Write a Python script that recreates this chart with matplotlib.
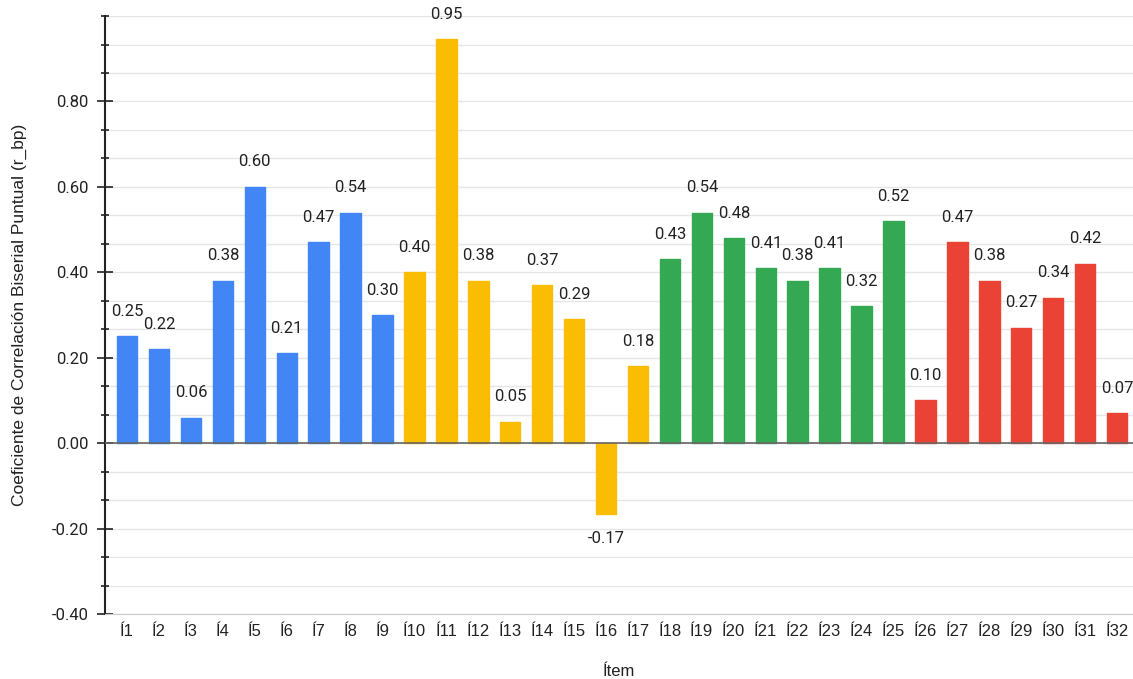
import matplotlib.pyplot as plt
from matplotlib.ticker import MultipleLocator
import numpy as np

items = ['Í%d' % i for i in range(1, 33)]
r_bp = [0.25, 0.22, 0.06, 0.38, 0.60, 0.21, 0.47, 0.54, 0.30,
        0.40, 0.946, 0.38, 0.05, 0.37, 0.29, -0.166, 0.18,
        0.43, 0.54, 0.48, 0.41, 0.38, 0.41, 0.32, 0.52,
        0.10, 0.47, 0.38, 0.27, 0.34, 0.42, 0.07]
group_sizes = [9, 8, 8, 7]
group_colors = ['#4285F4', '#FBBC04', '#34A853', '#EA4335']

plt.rcParams['font.family'] = ['Roboto', 'DejaVu Sans']
arial = ['Liberation Sans', 'DejaVu Sans']

bar_colors = []
for n, c in zip(group_sizes, group_colors):
    bar_colors += [c] * n

fig = plt.figure(figsize=(11.33, 6.79), dpi=100)
ax = fig.add_axes([0.0927, 0.0957, 0.9073, 0.8807])

x = np.arange(len(items))
ax.bar(x, r_bp, width=0.64, color=bar_colors, edgecolor=bar_colors,
       linewidth=1, joinstyle='round', zorder=3)

# value labels
for xi, v in zip(x, r_bp):
    off = 18 if v >= 0 else -17.5
    ax.annotate('%.2f' % v, (xi, v), xytext=(0, off), textcoords='offset points',
                ha='center', va='center', fontsize=12, color='#222222')

ax.set_xlim(-0.69, 31.5)
ax.set_ylim(-0.40, 1.0)
ax.yaxis.set_minor_locator(MultipleLocator(0.2 / 3))
yt = [-0.4, -0.2, 0.0, 0.2, 0.4, 0.6, 0.8]
ax.set_yticks(yt)
ax.set_yticklabels(['%.2f' % t for t in yt])
ax.tick_params(axis='y', which='major', direction='inout', length=11.5, width=1.2,
               labelsize=12, pad=6, colors='#222222')
ax.tick_params(axis='y', which='minor', direction='inout', length=6, width=1.2, color='#222222')
ax.set_xticks(x)
ax.set_xticklabels(items, family=arial)
ax.tick_params(axis='x', length=0, labelsize=12, pad=7, labelcolor='#222222')

ax.grid(axis='y', which='both', color='#e6e6e6', linewidth=1, zorder=0)
ax.axhline(0, color='#666666', linewidth=1.2, zorder=4)

for side in ['top', 'right']:
    ax.spines[side].set_visible(False)
ax.spines['left'].set_color('#222222')
ax.spines['left'].set_linewidth(1.5)
ax.spines['bottom'].set_color('#cccccc')

ax.set_ylabel('Coeficiente de Correlación Biserial Puntual (r_bp)', fontsize=12.5,
              family=arial, color='#222222', labelpad=18)
ax.set_xlabel('Ítem', fontsize=12, family=arial, color='#222222', labelpad=18)

fig.savefig('out.png', dpi=100)
plt.close(fig)
